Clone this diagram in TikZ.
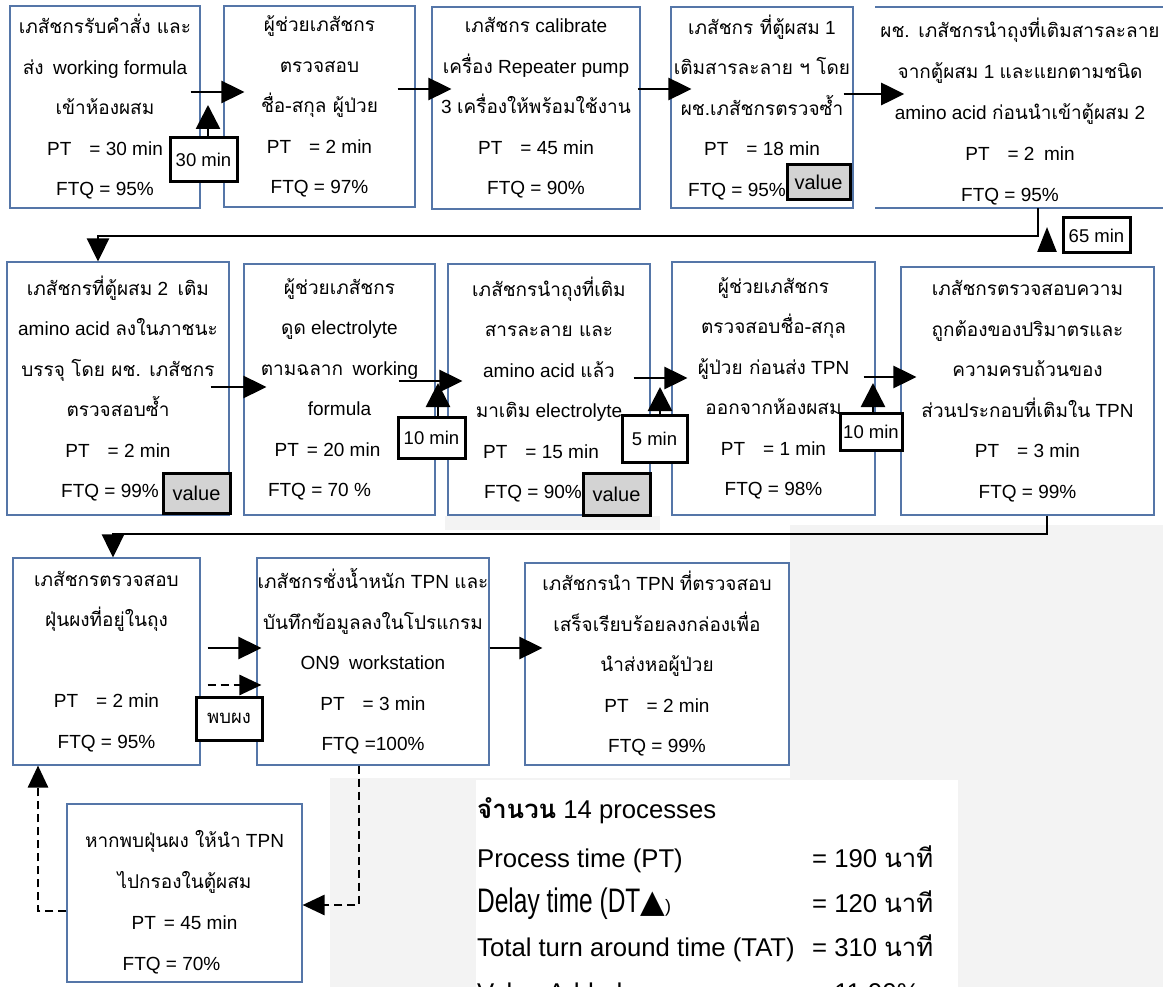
\documentclass[tikz,border=0pt]{standalone}
\usepackage{fontspec}
\usepackage{graphicx}
\setmainfont{Liberation Sans}
\newfontfamily\thaifont[Script=Thai]{Loma}
\newfontfamily\symfont{DejaVu Sans}
\newcommand{\tha}[1]{{\thaifont #1}}
\newcommand{\pg}{\hspace{18pt}}
\usetikzlibrary{arrows.meta}
\definecolor{boxblue}{HTML}{5576A8}
\definecolor{valgray}{HTML}{D3D3D3}
\definecolor{wmark}{HTML}{F3F3F3}

\begin{document}
\begin{tikzpicture}[x=1pt,y=-1pt,
  proc/.style={draw=boxblue, line width=1.1pt, fill=white, align=center,
    inner sep=0pt, font=\fontsize{19}{40.5}\selectfont},
  proctext/.style={align=center, inner sep=0pt, font=\fontsize{19}{41}\selectfont},
  delaybox/.style={draw=black, line width=3pt, fill=white, inner sep=0pt,
    font=\fontsize{18.5}{20}\selectfont},
  valbox/.style={draw=black, line width=3pt, fill=valgray, inner sep=0pt,
    font=\fontsize{20}{22}\selectfont},
  boxline/.style={draw=boxblue, line width=1.1pt},
  arr/.style={line width=2.7pt, -{Triangle[length=23pt,width=22pt]}},
  dasharr/.style={line width=2.7pt, dash pattern=on 8pt off 5pt,
    -{Triangle[length=22pt,width=20pt]}},
  delaytip/.style={line width=2.7pt, -{Triangle[length=24pt,width=24pt]}},
  summ/.style={inner sep=0pt, anchor=base west, font=\fontsize{25.7}{30}\selectfont},
]
\useasboundingbox (0,0) rectangle (1163,987);

% faint background panels
\fill[wmark] (445,516) rectangle (660,530);
\fill[wmark] (790,525) rectangle (1163,987);
\fill[wmark] (330,778) rectangle (1163,987);
\fill[white] (476,780) rectangle (958,987);

% ---- row 1 ----
\node[proc, minimum width=190pt, minimum height=202pt] (b1) at (105,107)
  {\tha{เภสัชกรรับคำสั่ง และ}\\\tha{ส่ง}\enspace working formula\\\tha{เข้าห้องผสม}\\PT\pg= 30 min\\FTQ = 95\%};
\node[proc, minimum width=191pt, minimum height=201pt] (b2) at (319.5,106.5)
  {\tha{ผู้ช่วยเภสัชกร}\\\tha{ตรวจสอบ}\\\tha{ชื่อ-สกุล ผู้ป่วย}\\PT\pg= 2 min\\FTQ = 97\%};
\node[proc, minimum width=208pt, minimum height=202pt] (b3) at (536,108)
  {\tha{เภสัชกร} calibrate\\\tha{เครื่อง} Repeater pump\\3 \tha{เครื่องให้พร้อมใช้งาน}\\PT\pg= 45 min\\FTQ = 90\%};
\node[proc, minimum width=182pt, minimum height=201pt] (b4) at (762,107.5)
  {\tha{เภสัชกร ที่ตู้ผสม} 1\\\tha{เติมสารละลาย ฯ โดย}\\\tha{ผช.เภสัชกรตรวจซ้ำ}\\PT\pg= 18 min\\\mbox{FTQ = 95\%\hspace{50pt}}};
\node[proctext] (b5) at (1020,112)
  {\tha{ผช. เภสัชกรนำถุงที่เติมสารละลาย}\\\tha{จากตู้ผสม} 1 \tha{และแยกตามชนิด}\\amino acid \tha{ก่อนนำเข้าตู้ผสม} 2\\PT\pg= 2\enspace min\\\mbox{FTQ = 95\%\hspace{20pt}}};
\draw[boxline] (875,7) -- (1170,7);
\draw[boxline] (875,208) -- (1170,208);

% ---- row 2 ----
\node[proc, minimum width=222pt, minimum height=253pt] (b6) at (118,388.5)
  {\tha{เภสัชกรที่ตู้ผสม} 2\enspace\tha{เติม}\\amino acid \tha{ลงในภาชนะ}\\\tha{บรรจุ โดย ผช. เภสัชกร}\\\tha{ตรวจสอบซ้ำ}\\PT\pg= 2 min\\\mbox{FTQ = 99\%\hspace{16pt}}};
\node[proc, minimum width=191pt, minimum height=251pt] (b7) at (339.5,389.5)
  {\tha{ผู้ช่วยเภสัชกร}\\\tha{ดูด} electrolyte\\\tha{ตามฉลาก}\enspace working\\formula\\\mbox{PT\hspace{8pt}= 20 min\hspace{24pt}}\\\mbox{FTQ = 70 \%\hspace{40pt}}};
\node[proc, minimum width=202pt, minimum height=251pt] (b8) at (549,389.5)
  {\tha{เภสัชกรนำถุงที่เติม}\\\tha{สารละลาย และ}\\amino acid \tha{แล้ว}\\\tha{มาเติม} electrolyte\\\mbox{PT\pg= 15 min\hspace{16pt}}\\\mbox{FTQ = 90\%\hspace{32pt}}};
\node[proc, minimum width=203pt, minimum height=253pt] (b9) at (773.5,388.5)
  {\tha{ผู้ช่วยเภสัชกร}\\\tha{ตรวจสอบชื่อ-สกุล}\\\tha{ผู้ป่วย ก่อนส่ง} TPN\\\tha{ออกจากห้องผสม}\\PT\pg= 1 min\\FTQ = 98\%};
\node[proc, minimum width=253pt, minimum height=248pt] (b10) at (1027.5,391)
  {\tha{เภสัชกรตรวจสอบความ}\\\tha{ถูกต้องของปริมาตรและ}\\\tha{ความครบถ้วนของ}\\\tha{ส่วนประกอบที่เติมใน} TPN\\PT\pg= 3 min\\FTQ = 99\%};

% ---- row 3 ----
\node[proc, minimum width=187pt, minimum height=207pt] (b11) at (106.5,661.5)
  {\tha{เภสัชกรตรวจสอบ}\\\tha{ฝุ่นผงที่อยู่ในถุง}\\\mbox{}\\PT\pg= 2 min\\FTQ = 95\%};
\node[proc, minimum width=232pt, minimum height=207pt] (b12) at (373,661.5)
  {\tha{เภสัชกรชั่งน้ำหนัก} TPN \tha{และ}\\\tha{บันทึกข้อมูลลงในโปรแกรม}\\ON9\enspace workstation\\PT\pg= 3 min\\FTQ =100\%};
\node[proc, minimum width=264pt, minimum height=202pt] (b13) at (657,664)
  {\tha{เภสัชกรนำ} TPN \tha{ที่ตรวจสอบ}\\\tha{เสร็จเรียบร้อยลงกล่องเพื่อ}\\\tha{นำส่งหอผู้ป่วย}\\PT\pg= 2 min\\FTQ = 99\%};
\node[proc, minimum width=235pt, minimum height=178pt] (b14) at (184.5,893) {};
\node[proctext] (b14t) at (184.5,902)
  {\tha{หากพบฝุ่นผง ให้นำ} TPN\\\tha{ไปกรองในตู้ผสม}\\PT\hspace{8pt}= 45 min\\\mbox{FTQ = 70\%\hspace{26pt}}};

% ---- flow arrows ----
\draw[arr] ([xshift=-10pt]b1.east |- 0,92) -- ([xshift=21pt]b2.west |- 0,92);
\draw[arr] ([xshift=-18pt]b2.east |- 0,89) -- ([xshift=20pt]b3.west |- 0,89);
\draw[arr] ([xshift=-3pt]b3.east |- 0,89) -- ([xshift=21pt]b4.west |- 0,89);
\draw[arr] ([xshift=-10pt]b4.east |- 0,94) -- ([xshift=24pt]b5.west |- 0,94);

\coordinate (c1) at (1038,236);
\draw[arr] (c1 |- 0,208) -- (c1) -| ([xshift=-20pt]b6.north);

\draw[arr] ([xshift=-19pt]b6.east |- 0,387) -- ([xshift=23pt]b7.west |- 0,387);
\draw[arr] ([xshift=-37pt]b7.east |- 0,381) -- ([xshift=15pt]b8.west |- 0,381);
\draw[arr] ([xshift=-17pt]b8.east |- 0,378) -- ([xshift=16pt]b9.west |- 0,378);
\draw[arr] ([xshift=-12pt]b9.east |- 0,377) -- ([xshift=16pt]b10.west |- 0,377);

\coordinate (c2) at (1047,534);
\draw[arr] (c2 |- b10.south) -- (c2) -| ([xshift=6.5pt]b11.north);

\draw[arr] ([xshift=7pt]b11.east |- 0,648) -- ([xshift=5pt]b12.west |- 0,648);
\draw[dasharr] ([xshift=7pt]b11.east |- 0,685) -- ([xshift=5pt]b12.west |- 0,685);
\draw[arr] (b12.east |- 0,648) -- ([xshift=18pt]b13.west |- 0,648);

\draw[dasharr] (b12.south -| 359,0) |- (b14.east |- 0,905);
\draw[dasharr] (b14.west |- 0,911) -| ([xshift=-68.5pt]b11.south);

% ---- value tags ----
\node[valbox, minimum width=63pt, minimum height=35pt] (v1) at (818.5,182.5) {value};
\node[valbox, minimum width=67pt, minimum height=40pt] (v2) at (196.5,493) {value};
\node[valbox, minimum width=67pt, minimum height=42pt] (v3) at (616.5,494) {value};

% ---- delays ----
\node[delaybox, minimum width=67pt, minimum height=44pt] (d1) at (203.5,160) {30 min};
\coordinate (t1) at (208,105);
\draw[delaytip] (d1.north -| t1) -- (t1);

\node[delaybox, minimum width=67pt, minimum height=35pt] (d2) at (1096.5,235.5) {65 min\hspace{4pt}};
\coordinate (t2) at (1047,227);
\draw[line width=2.5pt, -{Triangle[length=25pt,width=19pt]}] (t2 |- 0,252) -- (t2);

\node[delaybox, minimum width=67pt, minimum height=41pt] (d3) at (431.5,437.5) {10 min};
\coordinate (t3) at (438,383);
\draw[delaytip] (d3.north -| t3) -- (t3);

\node[delaybox, minimum width=65pt, minimum height=47pt] (d4) at (654.5,438.5) {5 min\hspace{10pt}};
\coordinate (t4) at (660,387);
\draw[delaytip] (d4.north -| t4) -- (t4);

\node[delaybox, minimum width=62pt, minimum height=37pt] (d5) at (871,431.5) {10 min};
\coordinate (t5) at (873,383);
\draw[delaytip] (d5.north -| t5) -- (t5);

\node[delaybox, minimum width=66pt, minimum height=43pt] (pb) at (229,718.5) {\tha{พบผง}};

% ---- summary ----
\node[summ] (s1) at (477,818) {{\bfseries\tha{จำนวน}} 14 processes};
\node[summ] (s2) at (477,867) {Process time (PT)};
\node[summ] (s2v) at (812,867) {= 190 \tha{นาที}};
\node[summ] (s3) at (477,912) {\scalebox{0.72}[1]{\fontsize{34}{36}\selectfont Delay time (DT}{\symfont\fontsize{32}{34}\selectfont ▲}{\fontsize{18}{20}\selectfont )}};
\node[summ] (s3v) at (812,912) {= 120 \tha{นาที}};
\node[summ] (s4) at (477,956) {Total turn around time (TAT)};
\node[summ] (s4v) at (812,956) {= 310 \tha{นาที}};
\node[summ] (s5) at (477,1001) {Value Added};
\node[summ] (s5v) at (812,1001) {= 11.90\%};
\end{tikzpicture}
\end{document}
